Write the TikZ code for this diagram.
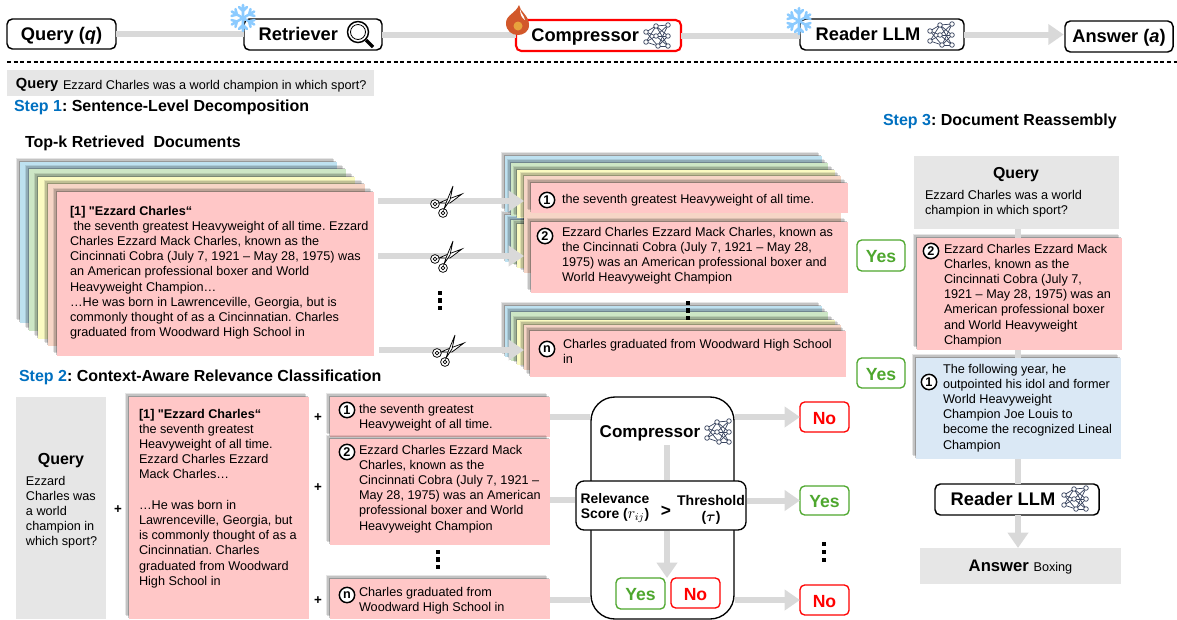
\documentclass[tikz,border=0pt]{standalone}
\usepackage{amsmath}
\usepackage{fontspec}
\setmainfont{Liberation Sans}
\newfontfamily\rawfont{Liberation Sans}
\usetikzlibrary{arrows.meta,shadows,calc}
\definecolor{gl}{HTML}{D9D9D9}
\definecolor{qgray}{HTML}{E6E6E6}
\definecolor{pinkb}{HTML}{FFC7C7}
\definecolor{peachb}{HTML}{F6D5C6}
\definecolor{yellb}{HTML}{FBFBC2}
\definecolor{greenb}{HTML}{CDE6C5}
\definecolor{blueb}{HTML}{BEE1F0}
\definecolor{lblue}{HTML}{DAE8F5}
\definecolor{stepblue}{HTML}{0070C0}
\definecolor{okgreen}{HTML}{4EA72E}
\definecolor{netc}{HTML}{3A4560}
\definecolor{flake}{HTML}{8CCBFF}
\definecolor{flameo}{HTML}{D2582B}
\definecolor{flamei}{HTML}{E8A33D}
\frenchspacing
\tikzset{
  pane/.style={draw=none,inner sep=0pt,outer sep=0pt},
  sheet/.style={pane,fill=#1,
    general shadow={fill=black,opacity=.10,shadow xshift=-2.8pt,shadow yshift=2.8pt},
    general shadow={fill=black,opacity=.15,shadow xshift=-2pt,shadow yshift=2pt},
    general shadow={fill=black,opacity=.22,shadow xshift=-1.1pt,shadow yshift=1.1pt}},
  flat/.style={pane,fill=#1},
  tbox/.style={draw=black,line width=1.1pt,rounded corners=4pt,fill=white,inner sep=0pt,outer sep=0pt,text height=11pt,text depth=2pt,font=\fontsize{13.7}{16}\selectfont\bfseries},
  redbox/.style={tbox,draw=red,line width=1.6pt},
  nobox/.style={draw=red,line width=1pt,rounded corners=3.5pt,fill=white,inner sep=0pt,outer sep=0pt,text=red,text height=11pt,text depth=0pt,font=\fontsize{13.2}{16}\selectfont\bfseries},
  yesbox/.style={draw=okgreen,line width=1pt,rounded corners=3.5pt,fill=white,inner sep=0pt,outer sep=0pt,text=okgreen,text height=11pt,text depth=0pt,font=\fontsize{13.2}{16}\selectfont\bfseries},
  thickline/.style={draw=gl,line width=4.5pt},
  thickarrow/.style={thickline,-{Triangle[length=11.5pt,width=15pt]}},
  body/.style={font=\fontsize{9.5}{11.4}\selectfont},
  head/.style={font=\fontsize{12}{14}\selectfont\bfseries},
  cnum/.style={circle,draw=black,fill=white,line width=1.1pt,inner sep=0pt,minimum size=11.5pt,font=\fontsize{9.5}{10}\selectfont\bfseries},
  dotsq/.style={fill=black,draw=none,inner sep=0pt,minimum size=3.6pt}
}
\newcommand{\pbox}[7]{\node[#1,minimum width={(#5-#3)*0.75pt},minimum height={(#6-#4)*0.75pt}] (#2) at ({(#3+#5)/2},{(#4+#6)/2}) {#7};}
\newcommand{\txt}[5][body]{\node[#1,anchor=north west,inner sep=0pt,outer sep=0pt,align=left] (#2) at (#3,#4-6) {\rule{0pt}{7.5pt}#5};}
\newcommand{\ctxt}[5][head]{\node[#1,inner sep=0pt,outer sep=0pt,align=center] (#2) at (#3,#4) {#5};}
\newcommand{\vdotsq}[4]{\node[dotsq] (#1a) at (#2,#3) {};\node[dotsq] (#1b) at (#2,#3+#4) {};\node[dotsq] (#1c) at (#2,#3+2*#4) {};}
\newcommand{\netic}[2]{\begin{scope}[shift={(#1,#2)},line width=.55pt,draw=netc]
  \foreach \a in {(-11,-4),(-11,6)} \foreach \b in {(-1,-10),(-1,0),(1,10)} \draw \a -- \b;
  \foreach \a in {(-1,-10),(-1,0),(1,10)} \foreach \b in {(11,-11),(11,0),(11,10)} \draw \a -- \b;
  \foreach \p in {(-11,-4),(-11,6),(-1,-10),(-1,0),(1,10),(11,-11),(11,0),(11,10)} \filldraw[fill=white] \p circle[radius=2.3];
\end{scope}}
\newcommand{\flakeic}[2]{\begin{scope}[shift={(#1,#2)},draw=flake,line width=1.9pt,line cap=round]
  \foreach \a in {0,60,...,300} {\draw[rotate=\a] (0,0)--(0,-13) (0,-7)--(-4,-11) (0,-7)--(4,-11);}
\end{scope}}
\newcommand{\sciss}[2]{\begin{scope}[shift={(#1,#2)},line width=.55pt,draw=black,fill=white]
  \filldraw (-10,3) circle[radius=4.4];\filldraw (-2,12) circle[radius=4.4];
  \draw (-10,3) circle[radius=1.8] (-2,12) circle[radius=1.8];
  \filldraw (-6,2)--(1,-1)--(17,-7)--(5,2)--cycle;
  \filldraw (-1,8)--(1,2)--(8,-15)--(5,-1)--cycle;
\end{scope}}
\begin{document}
\begin{tikzpicture}[x=0.75pt,y=-0.75pt]
\useasboundingbox (0,0) rectangle (1177,619);
% ---------- top row
\pbox{tbox}{topq}{7}{19}{116}{49}{Query (\textit{q})}
\pbox{tbox}{topr}{244}{19}{382}{50}{\hspace*{-22pt}Retriever}
\pbox{redbox}{topc}{516}{20}{681}{51}{\hspace*{-20pt}Compressor}
\pbox{tbox}{topl}{800}{19}{964}{50}{\hspace*{-21pt}Reader LLM}
\pbox{tbox}{topa}{1065}{21}{1173}{52}{Answer (\textit{a})}
\draw[thickline] (topq.east) -- (topq.east -| topr.west);
\draw[thickline] (topr.east) -- (topr.east -| topc.west);
\draw[thickline] (topc.east) -- (topc.east -| topl.west);
\draw[thickarrow,shorten >=1pt] (topl.east) -- (topl.east -| topa.west);
\begin{scope}[shift={(360,34)},line width=1.1pt,draw=black]
  \draw (-2,-2) circle[radius=10.5];
  \draw[line width=.6pt] (-2,-2) circle[radius=7.5];
  \draw[line width=2.4pt] (6,6)--(13,13);
\end{scope}
\netic{657}{36}
\netic{941}{35}
\flakeic{243}{18}
\flakeic{799}{21}
\fill[fill=flameo] (519,5) .. controls (520,12) and (529,15) .. (529,25) .. controls (529,32) and (523,35) .. (518,35) .. controls (512,35) and (506,31) .. (506,23) .. controls (506,15) and (516,13) .. (519,5) -- cycle;
\fill[fill=white] (520,9) .. controls (521,14) and (524,15) .. (525,20) .. controls (522,18) and (520,15) .. (520,9) -- cycle;
\fill[fill=flamei] (518,26) circle[radius=4.5];
\draw[densely dashed,line width=.9pt] (7,62) -- (1177,62);
% ---------- query band, headings
\pbox{flat=qgray}{qband}{7}{70}{374}{96}{}
\txt[font=\fontsize{11}{13}\selectfont\bfseries]{qw}{16}{84}{Query}
\txt[font=\fontsize{9.5}{11}\selectfont]{qt}{63}{85}{Ezzard Charles was a world champion in which sport?}
\txt[head]{st1}{14}{106}{\textcolor{stepblue}{Step 1}: Sentence-Level Decomposition}
\txt[head]{topk}{25}{142}{Top-k Retrieved\ \ Documents}
\txt[head]{st2}{19}{376}{\textcolor{stepblue}{Step 2}: Context-Aware Relevance Classification}
\txt[head]{st3}{883}{120}{\textcolor{stepblue}{Step 3}: Document Reassembly}
% ---------- left stack
\pbox{sheet=blueb}{da}{20}{162}{337}{323}{}
\pbox{sheet=greenb}{db}{29}{169}{346}{331}{}
\pbox{sheet=yellb}{dc}{38}{177}{355}{339}{}
\pbox{sheet=peachb}{dd}{48}{184}{365}{346}{}
\pbox{sheet=pinkb}{de}{57}{192}{374}{356}{}
\txt{dt}{70}{211}{\textbf{[1] {\rawfont "}Ezzard Charles“}\\\ the seventh greatest Heavyweight of all time. Ezzard\\Charles Ezzard Mack Charles, known as the\\Cincinnati Cobra (July 7, 1921 – May 28, 1975) was\\an American professional boxer and World\\Heavyweight Champion…\\…He was born in Lawrenceville, Georgia, but is\\commonly thought of as a Cincinnatian. Charles\\graduated from Woodward High School in}
% ---------- right stacks
\pbox{sheet=blueb}{ea}{505}{215}{822}{262}{}
\pbox{sheet=greenb}{eb}{511}{220}{828}{264}{}
\pbox{sheet=yellb}{ec}{517}{224}{835}{268}{}
\pbox{sheet=peachb}{ed}{524}{218}{841}{273}{}
\pbox{sheet=blueb}{sa}{505}{156}{822}{212}{}
\pbox{sheet=greenb}{sb}{511}{163}{828}{216}{}
\pbox{sheet=yellb}{sc}{517}{170}{835}{218}{}
\pbox{sheet=peachb}{sd}{524}{176}{841}{221}{}
\pbox{sheet=pinkb}{se}{531}{183}{848}{213}{}
\pbox{sheet=pinkb}{ee}{531}{222}{848}{293}{}
\pbox{sheet=blueb}{fa}{505}{306}{822}{357}{}
\pbox{sheet=greenb}{fb}{511}{312}{828}{361}{}
\pbox{sheet=yellb}{fc}{517}{320}{835}{365}{}
\pbox{sheet=peachb}{fd}{524}{325}{841}{370}{}
\pbox{sheet=pinkb}{fe}{530}{331}{846}{377}{}
\node[cnum] (c1) at (547,200) {1};
\node[cnum] (c2) at (545,236) {2};
\node[cnum] (c3) at (547,349) {n};
\txt{s1t}{562}{199}{the seventh greatest Heavyweight of all time.}
\txt{s2t}{562}{232}{Ezzard Charles Ezzard Mack Charles, known as\\the Cincinnati Cobra (July 7, 1921 – May 28,\\1975) was an American professional boxer and\\World Heavyweight Champion}
\txt{s3t}{563}{344}{Charles graduated from Woodward High School\\in}
\coordinate (a1) at (378,201);
\coordinate (a2) at (378,256);
\coordinate (a3) at (379,350);
\draw[thickarrow] (a1) -- (sd.west |- a1);
\draw[thickarrow] (a2) -- (ed.west |- a2);
\draw[thickarrow] (a3) -- (fd.west |- a3);
\sciss{445}{201}
\sciss{445}{256}
\sciss{447}{350}
\vdotsq{da}{440}{293}{7.5}
\vdotsq{db}{688}{303}{7.5}
% ---------- step 2
\pbox{flat=qgray}{lq}{16}{397}{106}{619}{}
\ctxt[font=\fontsize{12}{14}\selectfont\bfseries]{lqh}{61}{461}{Query}
\txt{lqt}{26}{481}{Ezzard\\Charles was\\a world\\champion in\\which sport?}
\ctxt[font=\fontsize{10}{12}\selectfont\bfseries]{p0}{118}{510}{+}
\pbox{sheet=pinkb}{bp}{129}{397}{309}{619}{}
\txt{bpt}{139}{414}{\textbf{[1] {\rawfont "}Ezzard Charles“}\\the seventh greatest\\Heavyweight of all time.\\Ezzard Charles Ezzard\\Mack Charles…\\[11.4pt]…He was born in\\Lawrenceville, Georgia, but\\is commonly thought of as a\\Cincinnatian. Charles\\graduated from Woodward\\High School in}
\ctxt[font=\fontsize{10}{12}\selectfont\bfseries]{p1}{318}{418}{+}
\ctxt[font=\fontsize{10}{12}\selectfont\bfseries]{p2}{318}{488}{+}
\ctxt[font=\fontsize{10}{12}\selectfont\bfseries]{p3}{318}{601}{+}
\pbox{sheet=pinkb}{m1}{330}{397}{550}{437}{}
\pbox{sheet=pinkb}{m2}{330}{439}{550}{545}{}
\pbox{sheet=pinkb}{m3}{330}{579}{550}{619}{}
\node[cnum] (n1) at (347,410) {1};
\node[cnum] (n2) at (347,452) {2};
\node[cnum] (n3) at (347,595) {n};
\txt{m1t}{359}{409}{the seventh greatest\\Heavyweight of all time.}
\txt{m2t}{359}{450}{Ezzard Charles Ezzard Mack\\Charles, known as the\\Cincinnati Cobra (July 7, 1921 –\\May 28, 1975) was an American\\professional boxer and World\\Heavyweight Champion}
\txt{m3t}{359}{592}{Charles graduated from\\Woodward High School in}
\vdotsq{dc}{438}{552}{7.5}
% compressor
\pbox{draw=black,line width=1pt,rounded corners=18pt,fill=white}{cp}{591}{397}{734}{619}{}
\ctxt[font=\fontsize{12.8}{15}\selectfont\bfseries]{cpt}{650}{433}{Compressor}
\netic{718}{432}
\coordinate (vs) at (667,445);
\pbox{draw=black,line width=1pt,rounded corners=6pt,fill=white}{sc2}{576}{481}{746}{530}{}
\ctxt[font=\fontsize{10.4}{11.6}\selectfont\bfseries]{rel}{615}{508}{Relevance\\Score ({\fontsize{12}{12}\selectfont$r_{ij}$})}
\ctxt[font=\fontsize{13}{14}\selectfont\bfseries]{gt}{666}{511}{>}
\ctxt[font=\fontsize{10.5}{11.6}\selectfont\bfseries]{thr}{711}{510}{Threshold\\($\boldsymbol{\tau}$)}
\pbox{yesbox}{y0}{616}{578}{665}{609}{Yes}
\pbox{nobox}{n0}{671}{578}{720}{608}{No}
\draw[thickline] (vs) -- (vs |- sc2.north);
\draw[thickarrow] (vs |- sc2.south) -- (vs |- y0.north);
\pbox{nobox}{ra}{800}{402}{849}{432}{No}
\pbox{yesbox}{rb}{800}{486}{849}{515}{Yes}
\pbox{nobox}{rc}{800}{585}{849}{615}{No}
\vdotsq{dd}{824}{544}{8}
\coordinate (h1) at (550,417);
\coordinate (h2) at (550,500);
\coordinate (h3) at (550,600);
\draw[thickline] (h1) -- (cp.west |- h1);
\draw[thickline] (h2) -- (sc2.west |- h2);
\draw[thickline] (h3) -- (cp.west |- h3);
\draw[thickarrow] (cp.east |- ra) -- (ra.west);
\draw[thickarrow] (sc2.east |- rb) -- (rb.west);
\draw[thickarrow] (cp.east |- rc) -- (rc.west);
% ---------- step 3
\pbox{yesbox}{ya}{857}{240}{905}{271}{Yes}
\pbox{yesbox}{yb}{857}{358}{905}{388}{Yes}
\pbox{flat=qgray}{aq}{914}{156}{1119}{229}{}
\ctxt[font=\fontsize{11.9}{14}\selectfont\bfseries]{aqh}{1016}{175}{Query}
\txt{aqt}{925}{195}{Ezzard Charles was a world\\champion in which sport?}
\pbox{sheet=pinkb}{ap}{917}{238}{1122}{350}{}
\pbox{sheet=lblue}{ab}{916}{358}{1121}{459}{}
\pbox{tbox}{ar}{935}{484}{1099}{515}{\hspace*{-21pt}Reader LLM}
\pbox{flat=qgray,text height=9.5pt,text depth=1.5pt}{aa}{920}{548}{1121}{584}{\fontsize{12.5}{14}\selectfont\textbf{Answer} \fontsize{9.5}{11}\selectfont Boxing}
\coordinate (v) at (1018,300);
\draw[thickline] (v |- aq.south) -- (v |- ap.north);
\draw[thickline] (v |- ap.south) -- (v |- ab.north);
\draw[thickline] (v |- ab.south) -- (v |- ar.north);
\draw[thickarrow] (v |- ar.south) -- (v |- aa.north);
\netic{1075}{499}
\node[cnum] (a2c) at (931,251) {2};
\node[cnum] (a1c) at (929,382) {1};
\txt{apt}{944}{249}{Ezzard Charles Ezzard Mack\\Charles, known as the\\Cincinnati Cobra (July 7,\\1921 – May 28, 1975) was an\\American professional boxer\\and World Heavyweight\\Champion}
\txt{abt}{943}{369}{The following year, he\\outpointed his idol and former\\World Heavyweight\\Champion Joe Louis to\\become the recognized Lineal\\Champion}
\end{tikzpicture}
\end{document}
